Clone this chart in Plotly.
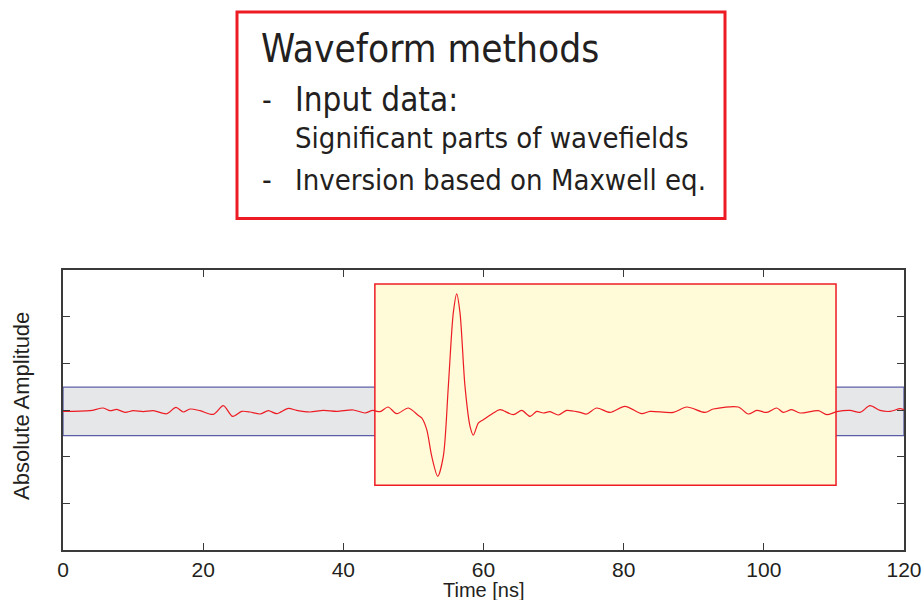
import plotly.graph_objects as go

# Waveform samples (time in ns, amplitude in axis units)
time_ns = [0.0, 3.85, 5.75, 6.71, 7.66, 8.85, 10.03, 11.46, 12.89, 14.80, 16.12, 17.17, 18.12, 19.55,
           21.45, 22.88, 24.21, 25.50, 26.69, 28.11, 29.30, 30.49, 32.15, 33.34, 35.25, 37.14, 39.05,
           41.42, 43.09, 44.19, 45.23, 46.38, 47.62, 49.27, 50.70, 51.18, 51.90, 52.61, 53.47, 54.27,
           54.98, 55.69, 56.18, 56.65, 57.36, 58.08, 58.55, 59.26, 59.97, 61.40, 62.36, 64.26, 65.45,
           66.64, 67.59, 68.54, 69.49, 70.68, 71.87, 73.77, 74.72, 76.15, 78.05, 80.19, 82.58, 83.76,
           87.09, 89.00, 91.61, 92.79, 96.36, 97.79, 98.99, 100.41, 101.84, 102.78, 103.98, 105.17,
           107.78, 108.98, 110.40, 112.30, 113.73, 115.15, 116.58, 118.01, 119.43, 120.0]
amplitude = [-0.03, -0.015, 0.043, -0.015, 0.013, -0.05, -0.015, -0.036, -0.015, -0.08, 0.056, -0.043,
             0.021, -0.015, -0.094, 0.092, -0.137, -0.03, -0.043, -0.086, -0.015, -0.079, 0.034, -0.009,
             -0.043, -0.009, -0.03, 0.0, -0.064, -0.009, -0.036, 0.064, -0.079, 0.043, -0.116, -0.171,
             -0.42, -0.99, -1.42, -0.99, 0.505, 2.08, 2.49, 2.08, 0.505, -0.35, -0.54, -0.28, -0.21,
             -0.064, 0.006, -0.10, -0.009, -0.137, -0.03, -0.064, -0.036, -0.107, -0.009, -0.051, -0.086,
             0.043, -0.051, 0.077, -0.079, -0.03, -0.051, 0.064, -0.051, 0.021, 0.064, -0.086, -0.009,
             -0.051, 0.043, -0.051, 0.006, -0.064, -0.015, -0.10, -0.036, -0.009, -0.051, 0.092, -0.009,
             -0.03, 0.028, 0.006]

x_ticks = [0, 20, 40, 60, 80, 100, 120]
y_ticks = [-3, -2, -1, 0, 1, 2, 3]

# Highlight windows (time range, amplitude range)
noise_band = {"t": [0, 120], "a": [-0.55, 0.49]}
signal_window = {"t": [44.5, 110.3], "a": [-1.61, 2.70]}

title_text = "Waveform methods"
bullet_lines = ["Input data:", "Significant parts of wavefields", "Inversion based on Maxwell eq."]

L, R, T, B = 63, 18, 270, 50
W, H = 922, 600
pw, ph = W - L - R, H - T - B


def px(xp):
    return (xp - L) / pw


def py(yp):
    return (H - B - yp) / ph


fig = go.Figure()
fig.add_trace(go.Scatter(x=time_ns, y=amplitude, mode="lines",
                         line=dict(color="#ed1c24", width=1.2, shape="spline", smoothing=0.8),
                         hoverinfo="skip", showlegend=False))

fig.add_shape(type="rect", xref="x", yref="y", x0=noise_band["t"][0], x1=noise_band["t"][1],
              y0=noise_band["a"][0], y1=noise_band["a"][1], layer="below",
              fillcolor="#e6e7e8", line=dict(color="#5b5ea6", width=1.3))
fig.add_shape(type="rect", xref="x", yref="y", x0=signal_window["t"][0], x1=signal_window["t"][1],
              y0=signal_window["a"][0], y1=signal_window["a"][1], layer="below",
              fillcolor="#fffad7", line=dict(color="#ed1c24", width=1.5))

# Text box
fig.add_shape(type="rect", xref="paper", yref="paper", x0=px(237), x1=px(725), y0=py(218.5), y1=py(12),
              fillcolor="white", line=dict(color="#ed1c24", width=3))

tfont = "DejaVu Sans Condensed, DejaVu Sans, sans-serif"
ann = []
ann.append(dict(text=title_text, x=px(260), y=py(48.5), xref="paper", yref="paper", xanchor="left",
                yanchor="middle", showarrow=False, borderpad=0, font=dict(family=tfont, size=38.5, color="#231f20")))
line_mid = [99.5, 137.9, 179.6]
sizes = [33, 29, 29]
for i, t in enumerate(bullet_lines):
    ann.append(dict(text=t, x=px(294), y=py(line_mid[i]), xref="paper", yref="paper", xanchor="left",
                    yanchor="middle", showarrow=False, borderpad=0,
                    font=dict(family=tfont, size=sizes[i], color="#231f20")))
for m in [line_mid[0], line_mid[2]]:
    ann.append(dict(text="-", x=px(261), y=py(m), xref="paper", yref="paper", xanchor="left",
                    yanchor="middle", showarrow=False, borderpad=0, font=dict(family=tfont, size=30, color="#231f20")))

afont = "Liberation Sans, Arial, sans-serif"
ann.append(dict(text="Absolute Amplitude", x=px(21), y=py(406), xref="paper", yref="paper", textangle=-90,
                xanchor="center", yanchor="middle", showarrow=False, borderpad=0,
                font=dict(family=afont, size=22, color="#231f20")))
ann.append(dict(text="Time [ns]", x=px(484), y=py(590), xref="paper", yref="paper",
                xanchor="center", yanchor="middle", showarrow=False, borderpad=0,
                font=dict(family=afont, size=20, color="#231f20")))

fig.update_layout(
    width=W, height=H, margin=dict(l=L, r=R, t=T, b=B, autoexpand=False),
    paper_bgcolor="white", plot_bgcolor="white", showlegend=False, annotations=ann,
    xaxis=dict(range=[0, 120], tickvals=x_ticks, ticktext=[str(v) for v in x_ticks], ticks="inside",
               ticklen=7, tickcolor="#3a3a3a", tickwidth=1.3, showline=True, linecolor="#3a3a3a", linewidth=1.5,
               mirror="ticks", showgrid=False, zeroline=False, automargin=False,
               tickfont=dict(family=afont, size=21, color="#231f20")),
    yaxis=dict(range=[-3, 3], tickvals=y_ticks, showticklabels=False, ticks="inside",
               ticklen=7, tickcolor="#3a3a3a", tickwidth=1.3, showline=True, linecolor="#3a3a3a", linewidth=1.5,
               mirror="ticks", showgrid=False, zeroline=False, automargin=False),
)

fig.write_html("out.html")
